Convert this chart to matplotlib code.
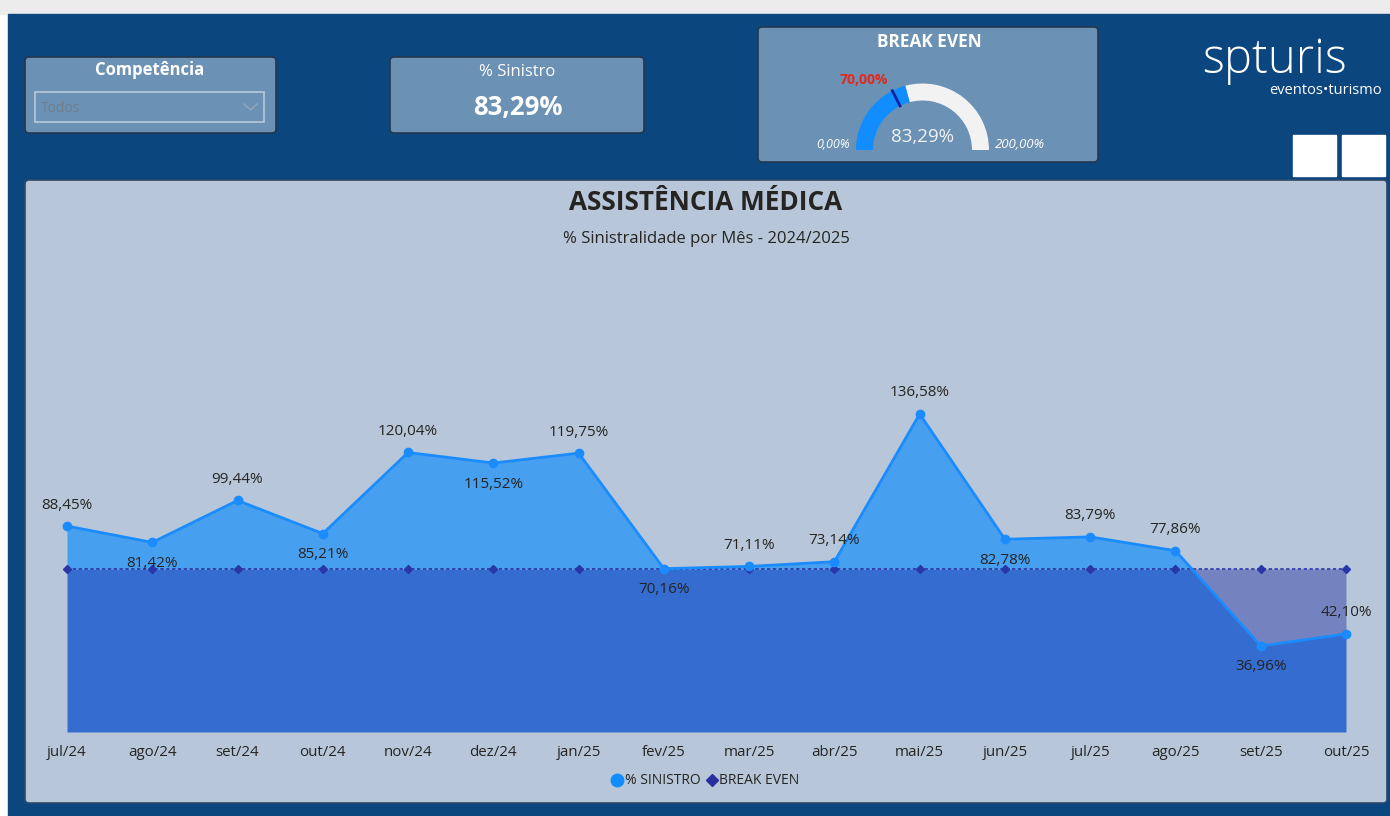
import matplotlib
matplotlib.use("Agg")
import matplotlib.pyplot as plt
import numpy as np
from matplotlib.patches import FancyBboxPatch, Rectangle, Wedge
from matplotlib.lines import Line2D

# ---------------- data ----------------
months = ["jul/24", "ago/24", "set/24", "out/24", "nov/24", "dez/24", "jan/25", "fev/25",
          "mar/25", "abr/25", "mai/25", "jun/25", "jul/25", "ago/25", "set/25", "out/25"]
sinistro = [88.45, 81.42, 99.44, 85.21, 120.04, 115.52, 119.75, 70.16,
            71.11, 73.14, 136.58, 82.78, 83.79, 77.86, 36.96, 42.10]
break_even = [70.0] * 16
label_pos = ["above", "below", "above", "below", "above", "below", "above", "below",
             "above", "above", "above", "below", "above", "above", "below", "above"]
kpi_sinistro = 83.29
gauge_min, gauge_max, gauge_target = 0.0, 200.0, 70.0

FONT = ["Open Sans", "DejaVu Sans"]
plt.rcParams["font.family"] = FONT

W, H = 1390, 816
fig = plt.figure(figsize=(W / 100, H / 100), dpi=100)

bg = fig.add_axes([0, 0, 1, 1])
bg.set_xlim(0, W)
bg.set_ylim(0, H)
bg.axis("off")

def Y(y):
    return H - y

def fmt(v):
    return f"{v:.2f}".replace(".", ",") + "%"

# page background
bg.add_patch(Rectangle((0, 0), W, H, color="white", zorder=0))
bg.add_patch(Rectangle((0, Y(14)), W, 14, color="#ececec", zorder=0))
bg.add_patch(Rectangle((8, 0), W - 8, Y(14), color="#0b467f", zorder=1))

def card(x0, y0, x1, y1, fc="#6b91b4", ec="#24384d"):
    bg.add_patch(FancyBboxPatch((x0, Y(y1)), x1 - x0, y1 - y0,
                                boxstyle="round,pad=0,rounding_size=4",
                                fc=fc, ec=ec, lw=1.2, zorder=2))

# Competência card
card(25, 57, 276, 133)
bg.text(150, Y(70), "Competência", color="white", fontsize=12, fontweight="bold",
        ha="center", va="center", zorder=3)
bg.add_patch(Rectangle((35, Y(122)), 229, 30, fc="none", ec="#b9c9d9", lw=1.2, zorder=3))
bg.text(41, Y(109), "Todos", color="#6e7d90", fontsize=10, ha="left", va="center", zorder=3)
bg.plot([244, 250.5, 257], [Y(104), Y(110), Y(104)], color="#95a7bb", lw=1, zorder=3)

# % Sinistro card
card(390, 57, 644, 133)
bg.text(517, Y(72), "% Sinistro", color="white", fontsize=12, ha="center", va="center", zorder=3)
bg.text(518, Y(107), fmt(kpi_sinistro), color="white", fontsize=18.5, fontweight="bold",
        ha="center", va="center", zorder=3)

# Break even gauge card
card(758, 27, 1098, 162)
bg.text(929, Y(42), "BREAK EVEN", color="white", fontsize=12.4, fontweight="bold",
        ha="center", va="center", zorder=3)
cx, cy, r_out, width = 922.5, Y(150), 66.5, 17
frac = (kpi_sinistro - gauge_min) / (gauge_max - gauge_min)
ang_val = 180 - 180 * frac
bg.add_patch(Wedge((cx, cy), r_out, 0, ang_val, width=width, fc="#f2f2f2", ec="none", zorder=3))
bg.add_patch(Wedge((cx, cy), r_out, ang_val, 180, width=width, fc="#118dff", ec="none", zorder=3))
ang_t = np.deg2rad(180 - 180 * (gauge_target - gauge_min) / (gauge_max - gauge_min))
bg.plot([cx + (r_out - width) * np.cos(ang_t), cx + r_out * np.cos(ang_t)],
        [cy + (r_out - width) * np.sin(ang_t), cy + r_out * np.sin(ang_t)],
        color="#12239e", lw=2, zorder=4)
bg.text(864, Y(80), fmt(gauge_target), color="#e3291b", fontsize=10, fontweight="bold",
        ha="center", va="center", zorder=4)
bg.text(833, Y(145), fmt(gauge_min), color="white", fontsize=9, style="italic",
        ha="center", va="center", zorder=4)
bg.text(1020, Y(145), fmt(gauge_max), color="white", fontsize=9.5, style="italic",
        ha="center", va="center", zorder=4)
bg.text(922, Y(137), fmt(kpi_sinistro), color="#f2f2f2", fontsize=13.5,
        ha="center", va="center", zorder=4)

# logo
bg.text(1275, Y(61), "spturis", color="white", fontsize=34, fontweight="light",
        ha="center", va="center", zorder=3)
bg.text(1382, Y(90), "eventos\u2022turismo", color="white", fontsize=10.5,
        ha="right", va="center", zorder=3)
bg.add_patch(Rectangle((1293, Y(176)), 43, 41, color="white", zorder=3))
bg.add_patch(Rectangle((1342, Y(176)), 43, 41, color="white", zorder=3))

# chart panel
card(25, 180, 1387, 803, fc="#b7c7d9", ec="#2e4a68")
bg.text(706, Y(203), "ASSISTÊNCIA MÉDICA", color="#252423", fontsize=18.8, fontweight="bold",
        ha="center", va="center", zorder=3)
bg.text(706, Y(239), "% Sinistralidade por Mês - 2024/2025", color="#252423", fontsize=12,
        ha="center", va="center", zorder=3)

# ---------------- chart axes ----------------
x_left, x_right = 67, 1346
y_zero, y_top = 732, 250
v_top = 207.0
ax = fig.add_axes([x_left / W, (H - y_zero) / H, (x_right - x_left) / W, (y_zero - y_top) / H])
ax.set_xlim(0, len(months) - 1)
ax.set_ylim(0, v_top)
ax.patch.set_alpha(0)
for sp in ax.spines.values():
    sp.set_visible(False)
ax.set_yticks([])

x = np.arange(len(months))
s = np.array(sinistro)
b = np.array(break_even)

# dense sampling for exact crossing fills
xd = np.linspace(0, len(months) - 1, 3001)
sd = np.interp(xd, x, s)
bd = np.interp(xd, x, b)
low = np.minimum(sd, bd)
ax.fill_between(xd, 0, low, color="#346ccf", lw=0, zorder=1)
ax.fill_between(xd, bd, sd, where=sd >= bd, color="#479fef", lw=0, zorder=1)
ax.fill_between(xd, sd, bd, where=sd < bd, color="#7483c0", lw=0, zorder=1)

ax.plot(x, b, color="#2a35a8", lw=1.2, ls=(0, (2, 1.5)), marker="D", ms=4,
        mfc="#2a35a8", mec="#2a35a8", zorder=3, clip_on=False)
ax.plot(x, s, color="#1a8cff", lw=2, marker="o", ms=6, mfc="#1a8cff", mec="#1a8cff",
        zorder=4, clip_on=False)

for xi, v, pos in zip(x, s, label_pos):
    dy = 21 if pos == "above" else -21
    ax.annotate(fmt(v), (xi, v), xytext=(0, dy * 0.72), textcoords="offset points",
                ha="center", va="center", fontsize=11, color="#252423", zorder=5)

ax.set_xticks(x)
ax.set_xticklabels(months)
ax.tick_params(axis="x", length=0, pad=9, labelsize=10.8, labelcolor="#252423")

# legend
handles = [Line2D([], [], ls="none", marker="o", ms=9, mfc="#118dff", mec="#118dff"),
           Line2D([], [], ls="none", marker="D", ms=6, mfc="#2a2fa0", mec="#2a2fa0")]
fig.legend(handles, ["% SINISTRO", "BREAK EVEN"], loc="center",
           bbox_to_anchor=(705 / W, (H - 781) / H), ncol=2, frameon=False,
           fontsize=10, handletextpad=0.05, columnspacing=0.3, handlelength=1.0,
           labelcolor="#252423")

fig.savefig("out.png", dpi=100)
